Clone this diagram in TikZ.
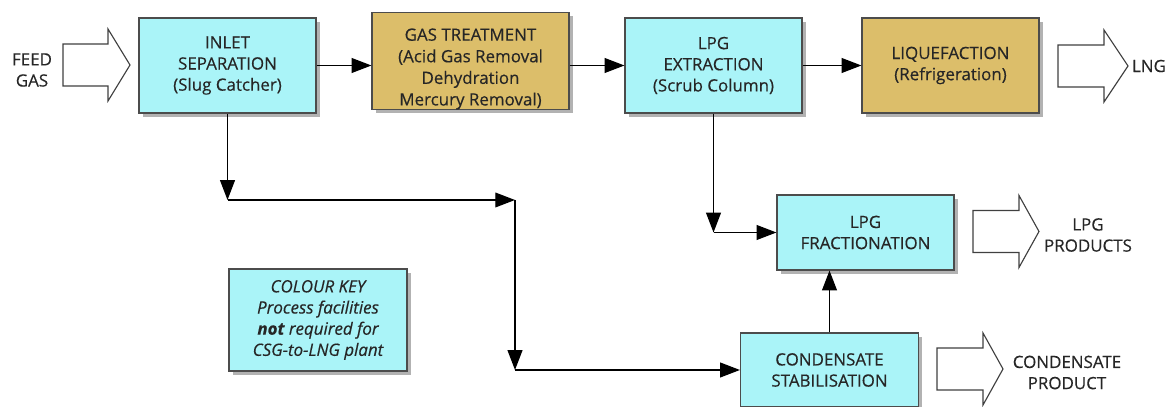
\documentclass[tikz,border=0pt]{standalone}
\usepackage{fontspec}
\setmainfont{Open Sans}[FakeBold=0.35]
\usetikzlibrary{arrows.meta,shadows}

\definecolor{proccyan}{HTML}{AAF4F8}
\definecolor{procgold}{HTML}{DCBE6A}
\definecolor{inkgray}{HTML}{262626}
\newcommand\pxu{0.709pt}

\begin{document}
\begin{tikzpicture}[x=0.709pt, y=-0.709pt,
  box/.style={draw=black!70, line width=0.8pt, align=center, inner sep=0pt, text=inkgray,
    font=\fontsize{12}{15}\selectfont,
    drop shadow={shadow xshift=2.5pt, shadow yshift=-2.5pt, fill=black, opacity=0.3},
    minimum width=177*\pxu, minimum height=95*\pxu},
  plain/.style={box, fill=proccyan},
  treat/.style={box, fill=procgold},
  flow/.style={line width=0.9pt, -{Triangle[length=14pt, width=10.5pt]}},
  bigarr/.style={draw=black!75, line width=0.8pt, fill=white},
  lbl/.style={align=center, text=inkgray, font=\fontsize{12}{15}\selectfont}
]
\useasboundingbox (0,0) rectangle (1174,407);
\clip (0,0) rectangle (1174,407);

% process blocks
\node[plain] (inlet) at (227.5,65.5) {INLET\\SEPARATION\\(Slug Catcher)};
\node[treat, minimum width=197*\pxu, minimum height=96*\pxu,
  font=\fontsize{12}{15.3}\selectfont] (gas) at (470.5,61)
  {\rule{0pt}{20pt}GAS TREATMENT\\(Acid Gas Removal\\Dehydration\\Mercury Removal)};
\node[plain] (lpgx) at (713.5,65.5) {LPG\\EXTRACTION\\(Scrub Column)};
\node[treat] (liq) at (950.5,65.5) {LIQUEFACTION\\(Refrigeration)};
\node[plain, minimum height=75*\pxu] (frac) at (865.5,232.5) {LPG\\FRACTIONATION};
\node[plain, minimum width=178*\pxu, minimum height=74*\pxu] (cond) at (829.5,370)
  {CONDENSATE\\STABILISATION};
\node[plain, minimum width=178*\pxu, minimum height=102*\pxu, font=\fontsize{12}{15}\selectfont\itshape]
  (key) at (318,320) {COLOUR KEY\\Process facilities\\\textbf{not} required for\\CSG-to-LNG plant};

% bends of the side streams
\coordinate (j1) at (227.5,200);
\coordinate (j2) at (515,200);
\coordinate (j3) at (515,370);
\coordinate (j4) at (713.5,232.5);

\draw[flow] (inlet.east) -- (inlet.east -| gas.west);
\draw[flow] (gas.east |- lpgx.west) -- (lpgx.west);
\draw[flow] (lpgx.east) -- (liq.west);

\draw[flow] (inlet.south) -- (j1);
\draw[flow] (j1) -- (j2);
\draw[flow] (j2) -- (j3);
\draw[flow] (j3) -- (cond.west);
\draw[flow] (lpgx.south) -- (j4);
\draw[flow] (j4) -- (frac.west);
\draw[flow] (cond.north) -- (cond.north |- frac.south);

% feed and product block arrows
\foreach \x/\y/\l/\h in {63/65/67/22, 1058/66/70/24, 973/231.5/66/20, 937/369/66/20} {
  \draw[bigarr] (\x,\y-21) -- (\x+\l-\h,\y-21) -- (\x+\l-\h,\y-36) -- (\x+\l,\y)
    -- (\x+\l-\h,\y+36) -- (\x+\l-\h,\y+21) -- (\x,\y+21) -- cycle;
}

\node[lbl] (feed) at (32,70) {FEED\\GAS};
\node[lbl] (lng) at (1149,66) {LNG};
\node[lbl] (lpgp) at (1088,235) {LPG\\PRODUCTS};
\node[lbl] (condp) at (1067,372.5) {CONDENSATE\\PRODUCT};

\end{tikzpicture}
\end{document}
